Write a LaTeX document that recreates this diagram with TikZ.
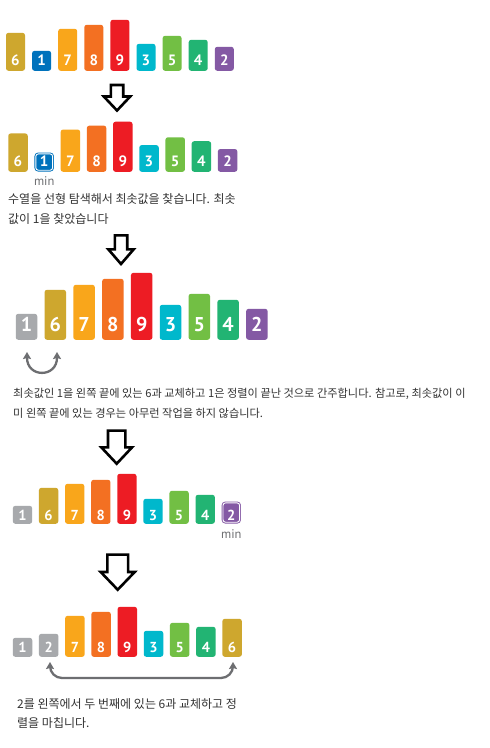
\documentclass[tikz,border=0pt]{standalone}
\usepackage{fontspec}
\newfontfamily\krfont{Noto Sans CJK KR}
\newfontfamily\digitfont{PT Sans}
\usepackage{tikz}
\usetikzlibrary{arrows.meta, positioning, calc}

\definecolor{cMustard}{HTML}{CEA72E}
\definecolor{cBlue}{HTML}{0072BC}
\definecolor{cAmber}{HTML}{F9A61B}
\definecolor{cOrange}{HTML}{F37022}
\definecolor{cRed}{HTML}{ED1C24}
\definecolor{cCyan}{HTML}{00B8CC}
\definecolor{cLime}{HTML}{72BF44}
\definecolor{cGreen}{HTML}{22B473}
\definecolor{cPurple}{HTML}{8459A4}
\definecolor{cGray}{HTML}{A7A9AC}
\definecolor{cArrow}{HTML}{6D6E71}
\definecolor{cText}{HTML}{333333}

\tikzset{
  bar/.style={anchor=south, rounded corners=2.5pt, inner sep=0pt, text=white, fill=#1},
  rowA/.style={bar=#1, minimum width=19pt, text depth=5pt, font=\digitfont\bfseries\fontsize{15}{15}\selectfont},
  rowB/.style={bar=#1, minimum width=19.5pt, text depth=5pt, font=\digitfont\bfseries\fontsize{15}{15}\selectfont},
  rowC/.style={bar=#1, minimum width=21.5pt, text depth=8pt, font=\digitfont\bfseries\fontsize{20}{20}\selectfont},
  rowD/.style={bar=#1, minimum width=19.3pt, text depth=3.5pt, font=\digitfont\bfseries\fontsize{14.5}{14.5}\selectfont},
  rowE/.style={bar=#1, minimum width=19.5pt, text depth=4pt, font=\digitfont\bfseries\fontsize{14.5}{14.5}\selectfont},
  minbox/.style={draw=#1, double=white, line width=0.9pt, double distance=0.9pt},
  minlabel/.style={anchor=base, inner sep=0pt, text=cArrow, font=\digitfont\fontsize{12.5}{12.5}\selectfont},
  note/.style={anchor=base west, inner sep=0pt, text=cText, font=\krfont\fontsize{12}{12}\selectfont},
  smallnote/.style={note, font=\krfont\fontsize{11.2}{11.2}\selectfont},
  bigarrow/.style={draw=black, fill=white, line width=2.6pt, line join=miter},
  swaparrow/.style={draw=cArrow, line width=2.3pt, {Stealth[length=7pt,width=8pt,inset=1pt]}-{Stealth[length=7pt,width=8pt,inset=1pt]}}
}

\begin{document}
\begin{tikzpicture}[x=1pt, y=-1pt]
\fill[white] (0,0) rectangle (490,748);
\useasboundingbox (0,0) rectangle (490,748);

% row 1 : start
\node[rowA=cMustard, text height=33pt] (a1) at (15.5,71) {6};
\node[rowA=cBlue,    text height=15pt] (a2) at (41.6,71) {1};
\node[rowA=cAmber,   text height=37pt] (a3) at (67.7,71) {7};
\node[rowA=cOrange,  text height=41pt] (a4) at (93.8,71) {8};
\node[rowA=cRed,     text height=46pt] (a5) at (119.9,71) {9};
\node[rowA=cCyan,    text height=22pt] (a6) at (146,71) {3};
\node[rowA=cLime,    text height=30pt] (a7) at (172.1,71) {5};
\node[rowA=cGreen,   text height=26pt] (a8) at (198.2,71) {4};
\node[rowA=cPurple,  text height=19pt] (a9) at (224.3,71) {2};

\draw[bigarrow] (110.8,85) -- (123.2,85) -- (123.2,96.5) -- (130.2,96.5) -- (117,110.5) -- (103.8,96.5) -- (110.8,96.5) -- cycle;

% row 2 : minimum found
\node[rowB=cMustard, text height=33.4pt] (b1) at (18,172) {6};
\node[rowB=cBlue, minbox=cBlue, minimum width=16.8pt, text depth=3.65pt, text height=12.65pt] (b2) at (44.2,170.65) {1};
\node[rowB=cAmber,   text height=37.3pt] (b3) at (70.4,172) {7};
\node[rowB=cOrange,  text height=41.2pt] (b4) at (96.6,172) {8};
\node[rowB=cRed,     text height=45.1pt] (b5) at (122.8,172) {9};
\node[rowB=cCyan,    text height=21.7pt] (b6) at (149,172) {3};
\node[rowB=cLime,    text height=29.5pt] (b7) at (175.2,172) {5};
\node[rowB=cGreen,   text height=25.6pt] (b8) at (201.4,172) {4};
\node[rowB=cPurple,  text height=17.8pt] (b9) at (227.6,172) {2};
\node[minlabel] (min1) at (44.2,185.5) {min};

\node[note] (t1) at (8,203) {수열을 선형 탐색해서 최솟값을 찾습니다. 최솟};
\node[note] (t2) at (8,223) {값이 1을 찾았습니다};

\draw[bigarrow] (114.8,235.3) -- (127.2,235.3) -- (127.2,249.3) -- (133.7,249.3) -- (121,264) -- (108.3,249.3) -- (114.8,249.3) -- cycle;

% row 3 : swap 1 and 6
\node[rowC=cGray,    text height=18pt] (c1) at (26.5,340) {1};
\node[rowC=cMustard, text height=42pt] (c2) at (55.3,340) {6};
\node[rowC=cAmber,   text height=47pt] (c3) at (84.1,340) {7};
\node[rowC=cOrange,  text height=53pt] (c4) at (112.9,340) {8};
\node[rowC=cRed,     text height=59pt] (c5) at (141.7,340) {9};
\node[rowC=cCyan,    text height=27pt] (c6) at (170.5,340) {3};
\node[rowC=cLime,    text height=38pt] (c7) at (199.3,340) {5};
\node[rowC=cGreen,   text height=32pt] (c8) at (228.1,340) {4};
\node[rowC=cPurple,  text height=23pt] (c9) at (256.9,340) {2};

\draw[swaparrow] ([xshift=0.5pt,yshift=-12pt]c1.south) .. controls +(0,26) and +(0,26) .. ([xshift=1.7pt,yshift=-12pt]c2.south);

\node[smallnote] (t3) at (13,397) {최솟값인 1을 왼쪽 끝에 있는 6과 교체하고 1은 정렬이 끝난 것으로 간주합니다. 참고로, 최솟값이 이};
\node[smallnote] (t4) at (13,417) {미 왼쪽 끝에 있는 경우는 아무런 작업을 하지 않습니다.};

\draw[bigarrow] (108,430.6) -- (125.4,430.6) -- (125.4,447.3) -- (132.1,447.3) -- (116.7,463.7) -- (101.3,447.3) -- (108,447.3) -- cycle;

% row 4 : next minimum
\node[rowD=cGray,    text height=14.5pt] (d1) at (22.5,524) {1};
\node[rowD=cMustard, text height=32.5pt] (d2) at (48.6,524) {6};
\node[rowD=cAmber,   text height=36.5pt] (d3) at (74.7,524) {7};
\node[rowD=cOrange,  text height=40.5pt] (d4) at (100.8,524) {8};
\node[rowD=cRed,     text height=46.5pt] (d5) at (126.9,524) {9};
\node[rowD=cCyan,    text height=21.5pt] (d6) at (153,524) {3};
\node[rowD=cLime,    text height=29.5pt] (d7) at (179.1,524) {5};
\node[rowD=cGreen,   text height=25.5pt] (d8) at (205.2,524) {4};
\node[rowD=cPurple, minbox=cPurple, minimum width=16.6pt, text depth=2.15pt, text height=17.15pt] (d9) at (231.3,522.65) {2};
\node[minlabel] (min2) at (231.3,538) {min};

\draw[bigarrow] (107.3,554.6) -- (128.1,554.6) -- (128.1,572) -- (134.7,572) -- (117.7,589.7) -- (100.7,572) -- (107.3,572) -- cycle;

% row 5 : swap 2 and 6
\node[rowE=cGray,    text height=15pt] (e1) at (22.5,657) {1};
\node[rowE=cGray,    text height=19pt] (e2) at (48.7,657) {2};
\node[rowE=cAmber,   text height=37pt] (e3) at (74.9,657) {7};
\node[rowE=cOrange,  text height=41pt] (e4) at (101.1,657) {8};
\node[rowE=cRed,     text height=46pt] (e5) at (127.3,657) {9};
\node[rowE=cCyan,    text height=22pt] (e6) at (153.5,657) {3};
\node[rowE=cLime,    text height=30pt] (e7) at (179.7,657) {5};
\node[rowE=cGreen,   text height=26pt] (e8) at (205.9,657) {4};
\node[rowE=cMustard, text height=34pt] (e9) at (232.1,657) {6};

\draw[swaparrow, rounded corners=12pt] ([xshift=1.3pt,yshift=-5pt]e2.south) -- ++(0,16) -| ([xshift=0.9pt,yshift=-5pt]e9.south);

\node[note] (t5) at (17,708) {2를 왼쪽에서 두 번째에 있는 6과 교체하고 정};
\node[note] (t6) at (17,727) {렬을 마칩니다.};

%\draw[loosely dotted] (0,0) grid[step=50] (490,748);
\end{tikzpicture}
\end{document}
